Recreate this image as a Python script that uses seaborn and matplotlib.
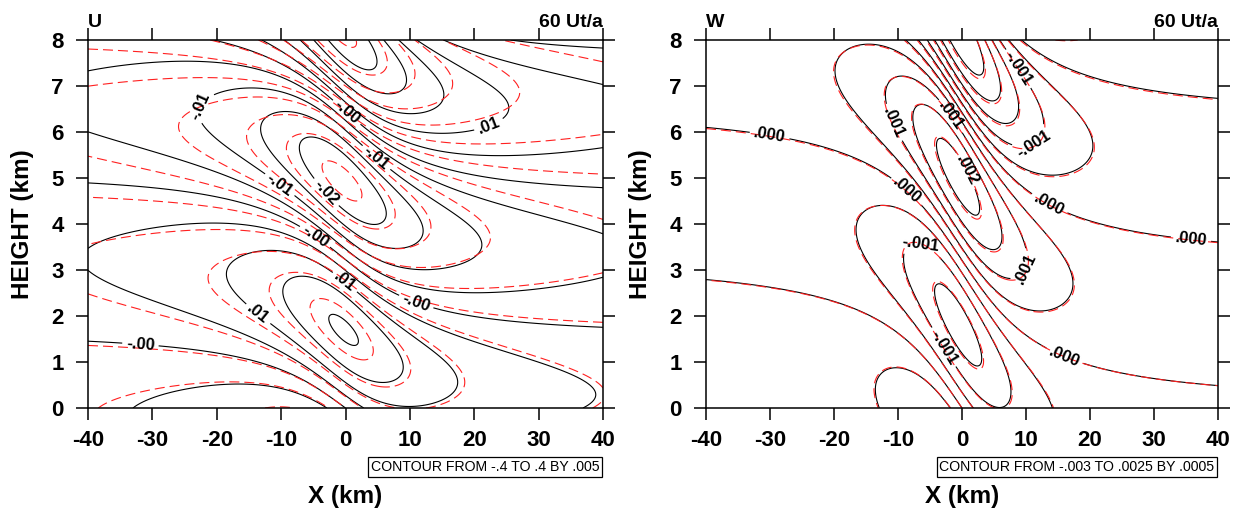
import numpy as np
import matplotlib
matplotlib.use("Agg")
import matplotlib.pyplot as plt
import seaborn as sns

# ------------------------------------------------------------------ data
# grid of the two panels (km)
x_km = np.linspace(-40.0, 40.0, 481)
z_km = np.linspace(0.0, 8.0, 241)

# mountain-wave parameters: index 0 = black model, 1 = red reference
half_width_km = [10.0, 10.0]
u_vert_wavenumber = [0.974, 0.975]        # 1/km at x = 0
u_wavenumber_skew = [0.065, 0.0]          # relative change of l from upstream to downstream
u_amplitude = [0.0189, 0.0205]
u_amplitude_skew = [0.05, 0.0]
u_two_H_km = [20.0, 20.0]

w_vert_wavenumber = [0.978, 0.982]        # 1/km
w_wavenumber_skew = [0.03, 0.03]
w_amplitude = [0.00148, 0.00151]
w_amplitude_skew = [0.12, 0.12]
w_two_H_km = [12.0, 12.0]
skew_scale_km = [20.0, 20.0]

# contour level specifications (from the info boxes)
u_level_spec = [-0.4, 0.4, 0.005]
w_level_spec = [-0.003, 0.0025, 0.0005]

x_ticks = [-40, -30, -20, -10, 0, 10, 20, 30, 40]
x_tick_labels = ["-40", "-30", "-20", "-10", "0", "10", "20", "30", "40"]
z_ticks = [0, 1, 2, 3, 4, 5, 6, 7, 8]
z_tick_labels = ["0", "1", "2", "3", "4", "5", "6", "7", "8"]

panel_names = ["U", "W"]
time_label = "60 Ut/a"
info_texts = ["CONTOUR FROM -.4 TO .4 BY .005",
              "CONTOUR FROM -.003 TO .0025 BY .0005"]

# ------------------------------------------------------------------ layout (label anchors)
u_label_anchor = [(-23, 6.6), (0, 6.4), (22.4, 6.1), (4.9, 5.46), (-11, 4.7),
                  (-3.3, 4.65), (-5.1, 3.65), (-0.3, 2.7), (10.8, 2.24),
                  (-14.4, 1.9), (-31.9, 1.3)]
w_label_anchor = [(-30.3, 5.72), (-12.7, 6.08), (-1.5, 6.37), (1.3, 5.2),
                  (7.8, 7.28), (11.9, 5.6), (13.75, 4.46), (35.9, 3.83),
                  (11.7, 2.96), (15.8, 1.04), (-9.2, 4.63), (-6.1, 3.7),
                  (-4.06, 1.22)]


def wave_fields(i):
    xx, zz = np.meshgrid(x_km, z_km)
    a = half_width_km[i]
    r2 = xx ** 2 + a ** 2
    s = np.tanh(xx / skew_scale_km[i])
    lu = u_vert_wavenumber[i] * (1 + u_wavenumber_skew[i] * s)
    lw = w_vert_wavenumber[i] * (1 + w_wavenumber_skew[i] * s)
    gu = np.exp(zz / u_two_H_km[i]) * (1 + u_amplitude_skew[i] * s)
    gw = np.exp(zz / w_two_H_km[i]) * (1 + w_amplitude_skew[i] * s)
    u = u_amplitude[i] * a * (a * np.sin(lu * zz) + xx * np.cos(lu * zz)) / r2 * gu
    w = w_amplitude[i] * a ** 2 * ((xx ** 2 - a ** 2) * np.sin(lw * zz)
                                   - 2 * a * xx * np.cos(lw * zz)) / r2 ** 2 * gw
    return xx, zz, u, w


def levels_from(spec):
    lo, hi, step = spec
    n = int(round((hi - lo) / step))
    return np.round(lo + step * np.arange(n + 1), 7)


def fmt_u(v):
    if abs(v) < 1e-12:
        return "-.00"
    return f"{v:.2f}".replace("0.", ".", 1)


def fmt_w(v):
    if abs(v) < 1e-12:
        return ".000"
    return f"{v:.3f}".replace("0.", ".", 1)


# ------------------------------------------------------------------ style
sns.set_theme(style="ticks")
plt.rcParams["font.family"] = ["Liberation Sans", "DejaVu Sans"]
plt.rcParams["axes.unicode_minus"] = False
plt.rcParams["text.color"] = "black"
plt.rcParams["axes.labelcolor"] = "black"
plt.rcParams["xtick.color"] = "black"
plt.rcParams["ytick.color"] = "black"

fig = plt.figure(figsize=(12.37, 5.21), dpi=100)
W, H = 1237.0, 521.0
ax_u = fig.add_axes([88 / W, (H - 408) / H, 515 / W, 368 / H])
ax_w = fig.add_axes([706 / W, (H - 408) / H, 512 / W, 368 / H])

xx, zz, u_b, w_b = wave_fields(0)
_, _, u_r, w_r = wave_fields(1)

panels = [
    (ax_u, u_b, u_r, levels_from(u_level_spec), 0.01, fmt_u, u_label_anchor),
    (ax_w, w_b, w_r, levels_from(w_level_spec), 0.001, fmt_w, w_label_anchor),
]

for k, (ax, fb, fr, levs, lab_step, fmt, anchors) in enumerate(panels):
    lo = min(fb.min(), fr.min())
    hi = max(fb.max(), fr.max())
    levs = levs[(levs >= lo) & (levs <= hi)]
    is_lab = np.array([abs(v / lab_step - round(v / lab_step)) < 1e-6 for v in levs])
    lev_lab = levs[is_lab]
    lev_plain = levs[~is_lab]
    ax.contour(xx, zz, fb, levels=lev_plain, colors="black",
               linewidths=0.8, linestyles="solid")
    cs_lab = ax.contour(xx, zz, fb, levels=lev_lab, colors="black",
                        linewidths=0.8, linestyles="solid")
    lbls = ax.clabel(cs_lab, fmt=fmt, fontsize=12, inline=True,
                     inline_spacing=4, manual=anchors)
    for t in lbls:
        t.set_fontweight("bold")
    ax.contour(xx, zz, fr, levels=levs, colors="#ff2020",
               linewidths=0.8, linestyles=[(0, (9, 4.5))])

    ax.set_xlim(-40, 40)
    ax.set_ylim(0, 8)
    ax.set_xticks(x_ticks, x_tick_labels)
    ax.set_yticks(z_ticks, z_tick_labels)
    ax.tick_params(direction="out", length=8.6, width=1.1, top=True,
                   right=True, labelsize=16, colors="black")
    ax.tick_params(axis="x", pad=7.0)
    ax.tick_params(axis="y", pad=9.0)
    for lbl in ax.get_xticklabels() + ax.get_yticklabels():
        lbl.set_fontweight("bold")
    for sp in ax.spines.values():
        sp.set_visible(True)
        sp.set_linewidth(1.1)
        sp.set_color("black")
    ax.set_facecolor("white")
    ax.grid(False)

    ax.set_xlabel("X (km)", fontsize=17.5, fontweight="bold", labelpad=25)
    ax.set_ylabel("HEIGHT (km)", fontsize=17.5, fontweight="bold", labelpad=12)

    ax.text(0.0, 1.0 + 13 / 368, panel_names[k], transform=ax.transAxes,
            ha="left", va="baseline", fontsize=14, fontweight="bold")
    ax.text(1.0, 1.0 + 13 / 368, time_label, transform=ax.transAxes,
            ha="right", va="baseline", fontsize=14, fontweight="bold")
    ax.text(1.0 - 3.5 / 515, -52 / 368, info_texts[k], transform=ax.transAxes,
            ha="right", va="top", fontsize=10.2,
            bbox=dict(boxstyle="square,pad=0.18", facecolor="white",
                      edgecolor="black", linewidth=0.9))

fig.savefig("out.png", dpi=100, facecolor="white")
